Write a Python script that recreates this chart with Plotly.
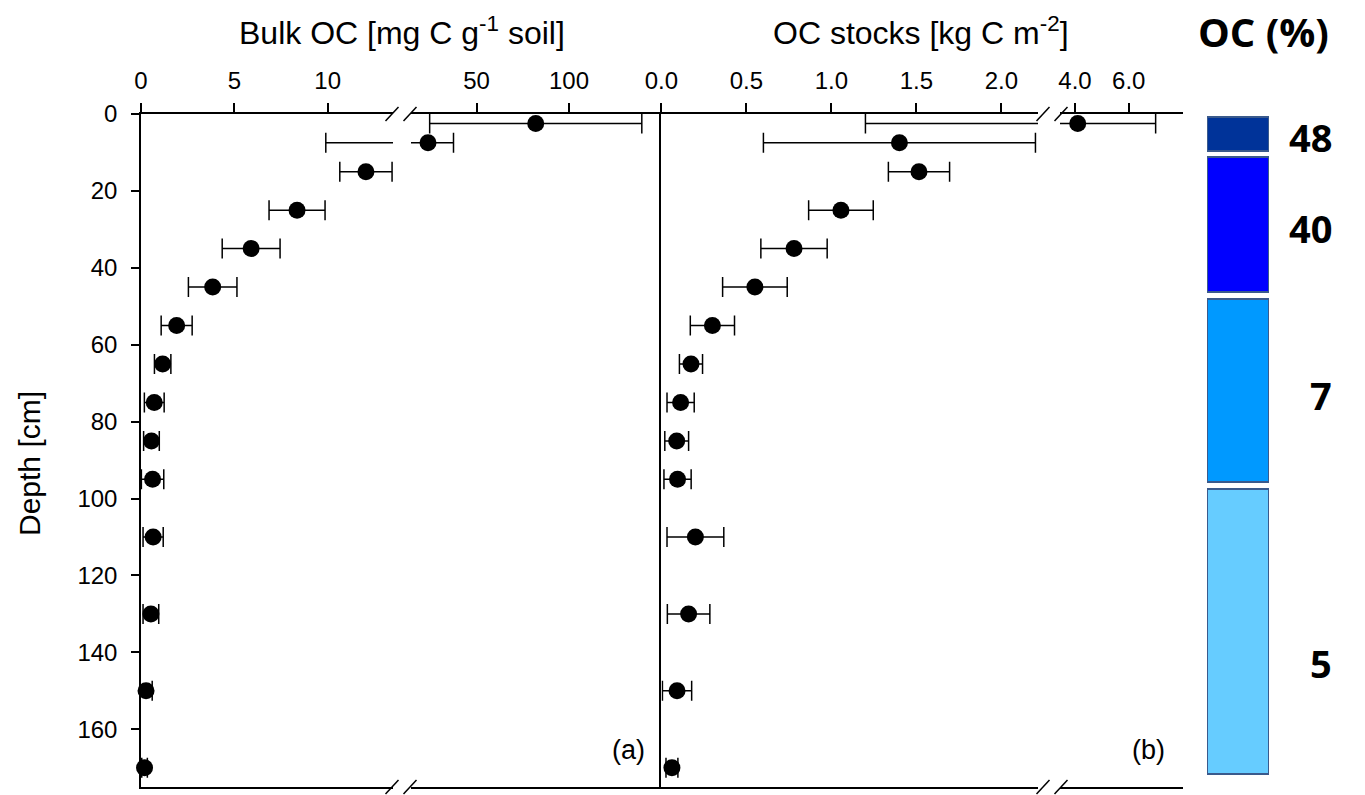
import plotly.graph_objects as go
import numpy as np

# ---------------- data ----------------
depth = [2.5, 7.5, 15, 25, 35, 45, 55, 65, 75, 85, 95, 110, 130, 150, 170]
bulk_oc = [82.0, 23.7, 12.05, 8.36, 5.9, 3.84, 1.91, 1.16, 0.71, 0.56, 0.62, 0.65, 0.53, 0.27, 0.19]
bulk_sd = [57.4, 13.8, 1.4, 1.5, 1.55, 1.3, 0.83, 0.44, 0.53, 0.42, 0.6, 0.54, 0.42, 0.33, 0.15]
stock = [4.1, 1.40, 1.515, 1.056, 0.78, 0.55, 0.30, 0.174, 0.113, 0.09, 0.095, 0.20, 0.16, 0.092, 0.062]
stock_sd = [2.9, 0.80, 0.18, 0.19, 0.195, 0.19, 0.13, 0.068, 0.08, 0.07, 0.08, 0.167, 0.125, 0.086, 0.035]

depth_ticks = [0, 20, 40, 60, 80, 100, 120, 140, 160]
a_lo_ticks = [0, 5, 10]
a_hi_ticks = [50, 100]
b_lo_ticks = [0.0, 0.5, 1.0, 1.5, 2.0]
b_hi_ticks = [4.0, 6.0]

oc_labels = ["48", "40", "7", "5"]
oc_top = [0.9, 11.2, 48.0, 97.5]
oc_bottom = [9.6, 46.2, 95.7, 171.6]
oc_label_depth = [6.0, 29.6, 73.0, 142.8]
oc_colors = ["#003399", "#0000FF", "#0099FF", "#66CCFF"]

# ---------------- layout geometry (pixels) ----------------
W, H = 1365, 795
def px(x):
    return x / W
def py(y):
    return 1 - y / H

y_dom = [py(787), py(114)]
FONT = "Liberation Sans, Arial, sans-serif"
BOLD = "Open Sans, sans-serif"
TICK = 24

segments = [
    # (axis id, data, sd, range, domain px, ticks, tickformat, yaxis)
    ("x", bulk_oc, bulk_sd, [0, 13.5], [141, 393], a_lo_ticks, "d", "y"),
    ("x2", bulk_oc, bulk_sd, [14.5, 150], [411, 661.4], a_hi_ticks, "d", "y"),
    ("x3", stock, stock_sd, [0, 2.215], [661.4, 1038], b_lo_ticks, ".1f", "y2"),
    ("x4", stock, stock_sd, [3.44, 8.0], [1060, 1182.5], b_hi_ticks, ".1f", "y2"),
]

fig = go.Figure()
layout = {}

for i, (xa, vals, sds, rng, dom, ticks, fmt, ya) in enumerate(segments):
    key = "xaxis" if xa == "x" else "xaxis" + xa[1:]
    layout[key] = dict(
        domain=[px(dom[0]), px(dom[1])], range=rng, anchor=ya, side="top",
        showline=True, linecolor="black", linewidth=1.5, mirror=True,
        ticks="outside", ticklen=9, tickwidth=1.5, tickcolor="black",
        ticklabelstandoff=5,
        tickvals=ticks, ticktext=[format(t, fmt) for t in ticks],
        tickfont=dict(family=FONT, size=TICK, color="black"),
        showgrid=False, zeroline=False, fixedrange=True, automargin=False,
    )
    # error bars (clipped to segment)
    fig.add_trace(go.Scatter(
        x=vals, y=depth, xaxis=xa, yaxis=ya, mode="markers",
        marker=dict(size=2, opacity=0),
        error_x=dict(type="data", array=sds, symmetric=True, color="black",
                     thickness=1.5, width=10),
        showlegend=False, hoverinfo="skip",
    ))
    # markers: overlay axis, only points within this segment, not clipped
    ov = "x" + str(5 + i)
    layout["xaxis" + str(5 + i)] = dict(
        domain=[px(dom[0]), px(dom[1])], range=rng, anchor=ya,
        overlaying=xa, visible=False, fixedrange=True, automargin=False,
    )
    v = np.array(vals)
    d = np.array(depth)
    m = (v >= rng[0]) & (v <= rng[1])
    fig.add_trace(go.Scatter(
        x=v[m], y=d[m], xaxis=ov, yaxis=ya, mode="markers",
        marker=dict(size=17, color="black"), cliponaxis=False,
        showlegend=False,
    ))

layout["yaxis"] = dict(
    domain=y_dom, range=[175, 0], anchor="x",
    showline=True, linecolor="black", linewidth=1.5,
    ticks="outside", ticklen=8, tickwidth=1.5, tickcolor="black",
    ticklabelstandoff=9,
    tickvals=depth_ticks, tickfont=dict(family=FONT, size=TICK, color="black"),
    showgrid=False, zeroline=False, fixedrange=True, automargin=False,
)
layout["yaxis2"] = dict(
    domain=y_dom, range=[175, 0], anchor="x3", matches="y",
    showline=True, linecolor="black", linewidth=1.5,
    ticks="", showticklabels=False, showgrid=False, zeroline=False,
    automargin=False,
)

# OC (%) column
layout["xaxis9"] = dict(domain=[px(1207), px(1269)], range=[0, 1], anchor="y3",
                        visible=False, fixedrange=True, automargin=False)
layout["yaxis3"] = dict(domain=y_dom, range=[175, 0], anchor="x9", visible=False,
                        fixedrange=True, automargin=False)
fig.add_trace(go.Bar(
    x=[0.5] * len(oc_top), y=[b - t for t, b in zip(oc_top, oc_bottom)], base=oc_top,
    width=1, xaxis="x9", yaxis="y3", textposition="none",
    marker=dict(color=oc_colors, line=dict(color="#3A5A8C", width=2)),
    showlegend=False, hoverinfo="skip",
))

annotations = []
for lab, dp in zip(oc_labels, oc_label_depth):
    annotations.append(dict(
        x=px(1334), xref="paper", y=dp, yref="y3", text="<b>%s</b>" % lab,
        showarrow=False, xanchor="right", yanchor="middle",
        font=dict(family=BOLD, size=38, color="black"),
    ))

annotations += [
    dict(x=px(402), y=py(31), xref="paper", yref="paper",
         text="Bulk OC [mg C g<sup>-1</sup> soil]", showarrow=False,
         xanchor="center", yanchor="middle",
         font=dict(family=FONT, size=32, color="black")),
    dict(x=px(921), y=py(31), xref="paper", yref="paper",
         text="OC stocks [kg C m<sup>-2</sup>]", showarrow=False,
         xanchor="center", yanchor="middle",
         font=dict(family=FONT, size=32, color="black")),
    dict(x=px(29), y=py(464), xref="paper", yref="paper",
         text="Depth [cm]", showarrow=False, textangle=-90,
         xanchor="center", yanchor="middle",
         font=dict(family=FONT, size=30, color="black")),
    dict(x=px(1263), y=py(32), xref="paper", yref="paper",
         text="<b>OC (%)</b>", showarrow=False,
         xanchor="center", yanchor="middle",
         font=dict(family=BOLD, size=40, color="black")),
    dict(x=px(647), y=py(750), xref="paper", yref="paper", text="(a)",
         showarrow=False, xanchor="right", yanchor="middle",
         font=dict(family=FONT, size=27, color="black")),
    dict(x=px(1167), y=py(750), xref="paper", yref="paper", text="(b)",
         showarrow=False, xanchor="right", yanchor="middle",
         font=dict(family=FONT, size=27, color="black")),
]

# axis-break marks (top and bottom) at each break
shapes = []
break_centers = [(392, 410), (1043, 1061)]
for c1, c2 in break_centers:
    for yline in (114, 787):
        for c in (c1, c2):
            shapes.append(dict(type="line", xref="paper", yref="paper",
                               x0=px(c - 6.5), y0=py(yline + 7),
                               x1=px(c + 6.5), y1=py(yline - 7),
                               line=dict(color="black", width=1.5)))

fig.update_layout(
    width=W, height=H, margin=dict(l=0, r=0, t=0, b=0, autoexpand=False),
    paper_bgcolor="white", plot_bgcolor="white",
    annotations=annotations, shapes=shapes, showlegend=False,
    bargap=0, **layout,
)

fig.write_html("out.html")
